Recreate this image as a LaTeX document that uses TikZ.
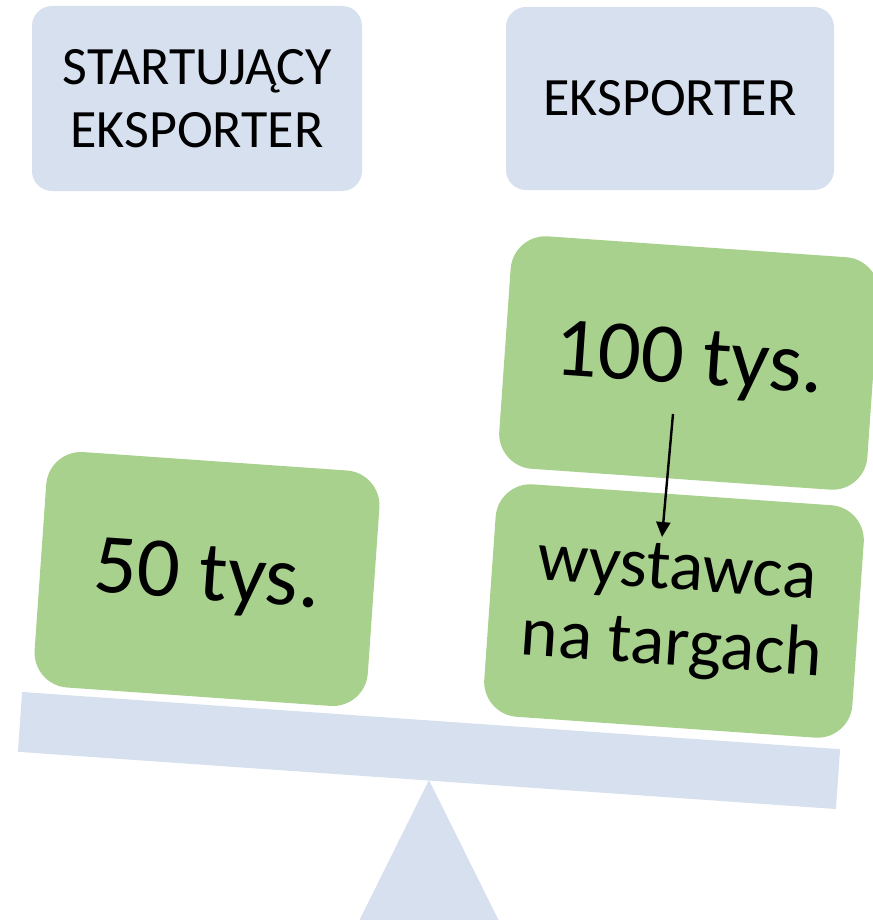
\documentclass[tikz,border=0pt]{standalone}
\usepackage{fontspec}
\setmainfont{Carlito}
\usetikzlibrary{arrows.meta, positioning}
\tikzset{>=latex}
\definecolor{boxblue}{HTML}{D6E0EF}
\definecolor{boxgreen}{HTML}{A9D18E}

\begin{document}
\begin{tikzpicture}[x=1pt, y=-1pt]
    \useasboundingbox (0,0) rectangle (872,920);
    % fulcrum and beam
    \coordinate (P) at (429,780);
    \coordinate (Q) at (359,921);
    \coordinate (R) at (499,921);
    \fill[boxblue] (P) -- (Q) -- (R) -- cycle;
    \node[fill=boxblue, rotate=-4, minimum width=820pt, minimum height=60pt, inner sep=0pt] (B) at (429,750.5) {};
    \begin{scope}[every node/.style={fill=boxblue, rounded corners=20pt, inner sep=0pt, align=center, font=\fontsize{54}{63}\selectfont}]
      \node[minimum width=330pt, minimum height=185pt] (S) at (197,98.5) {STARTUJĄCY\\EKSPORTER};
      \node[minimum width=328pt, minimum height=183pt] (E) at (670,98.5) {EKSPORTER};
    \end{scope}
    \begin{scope}[every node/.style={fill=boxgreen, rounded corners=35pt, rotate=-4, inner sep=0pt, align=center, minimum width=369pt, minimum height=233pt}]
      \node[minimum width=334pt, minimum height=236pt, font=\fontsize{85}{90}\selectfont] (L) at (207,579) {50 tys.};
      \node[font=\fontsize{85}{90}\selectfont] (U) at (689,363) {100 tys.};
      \node[font=\fontsize{71}{76}\selectfont] (W) at (674,611) {wystawca\\na targach};
    \end{scope}
    \coordinate (a) at (673,414);
    \coordinate (b) at (662,537);
    \draw[-{Triangle[length=15pt, width=14pt]}, line width=2.4pt] (a) -- (b);
\end{tikzpicture}
\end{document}
